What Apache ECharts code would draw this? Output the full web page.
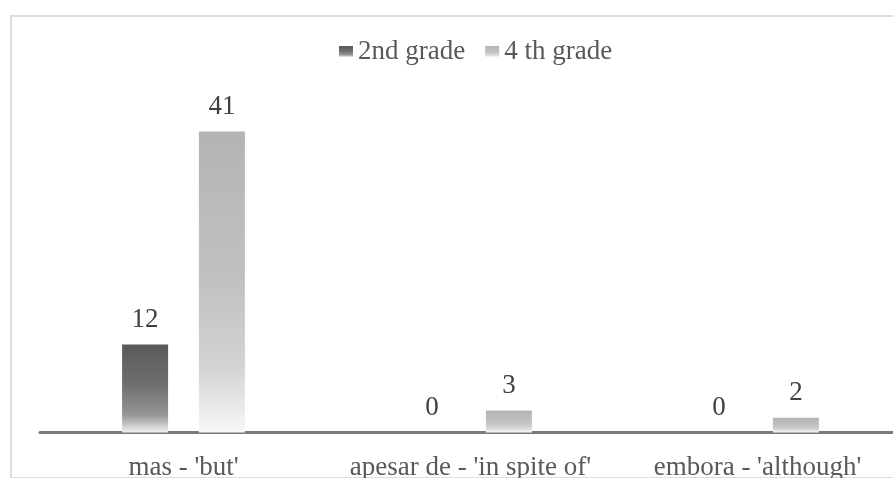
<!DOCTYPE html>
<html>
<head>
<meta charset="utf-8">
<script src="https://cdn.jsdelivr.net/npm/echarts@6/dist/echarts.min.js"></script>
<style>
html,body{margin:0;padding:0;background:#fff;overflow:hidden;}
#frame{position:absolute;left:10px;top:15px;width:900px;height:464px;border:2px solid #dedede;box-sizing:border-box;}
#chart{position:absolute;left:0;top:0;width:893px;height:478px;}
</style>
</head>
<body>
<div id="frame"></div>
<div id="chart"></div>
<script>
const categories = ["mas - 'but'", "apesar de - 'in spite of'", "embora - 'although'"];
const seriesNames = ["2nd grade", "4 th grade"];
const grade2 = [12, 0, 0];
const grade4 = [41, 3, 2];

const FONT = '"Liberation Serif", "Times New Roman", serif';
const chart = echarts.init(document.getElementById('chart'), null, {renderer: 'canvas'});

function grad(stops) {
  return new echarts.graphic.LinearGradient(0, 0, 0, 1, stops.map((c) => ({offset: c[0], color: c[1]})));
}
const darkGrad = grad([[0, '#5a5a5a'], [0.45, '#6e6e6e'], [0.8, '#959595'], [1, '#f0f0f0']]);
const lightGrad = grad([[0, '#b4b4b4'], [0.5, '#c1c1c1'], [0.78, '#d3d3d3'], [1, '#f8f8f8']]);

const labelCfg = {
  show: true, position: 'top', distance: 11,
  fontFamily: FONT, fontSize: 27, color: '#404040'
};

chart.setOption({
  animation: false,
  backgroundColor: 'transparent',
  legend: {
    left: 334, top: 33,
    itemWidth: 14, itemHeight: 11, itemGap: 20,
    icon: 'rect',
    textStyle: {fontFamily: FONT, fontSize: 27, color: '#595959', padding: [0, 0, 0, 0]},
    data: seriesNames
  },
  grid: {left: 40, right: -8, top: 65.5, bottom: 45.5, containLabel: false, outerBoundsMode: 'none'},
  xAxis: {
    type: 'category',
    data: categories,
    axisLine: {show: true, lineStyle: {color: '#7a7a7a', width: 3}},
    axisTick: {show: false},
    axisLabel: {fontFamily: FONT, fontSize: 27, color: '#595959', margin: 22, interval: 0}
  },
  yAxis: {
    type: 'value', min: 0, max: 50,
    show: false,
    splitLine: {show: false}
  },
  series: [
    {
      name: seriesNames[0], type: 'bar', data: grade2,
      barWidth: 46, barGap: '67%',
      itemStyle: {color: darkGrad},
      label: labelCfg
    },
    {
      name: seriesNames[1], type: 'bar', data: grade4,
      barWidth: 46,
      itemStyle: {color: lightGrad},
      label: labelCfg
    }
  ]
});
</script>
</body>
</html>
